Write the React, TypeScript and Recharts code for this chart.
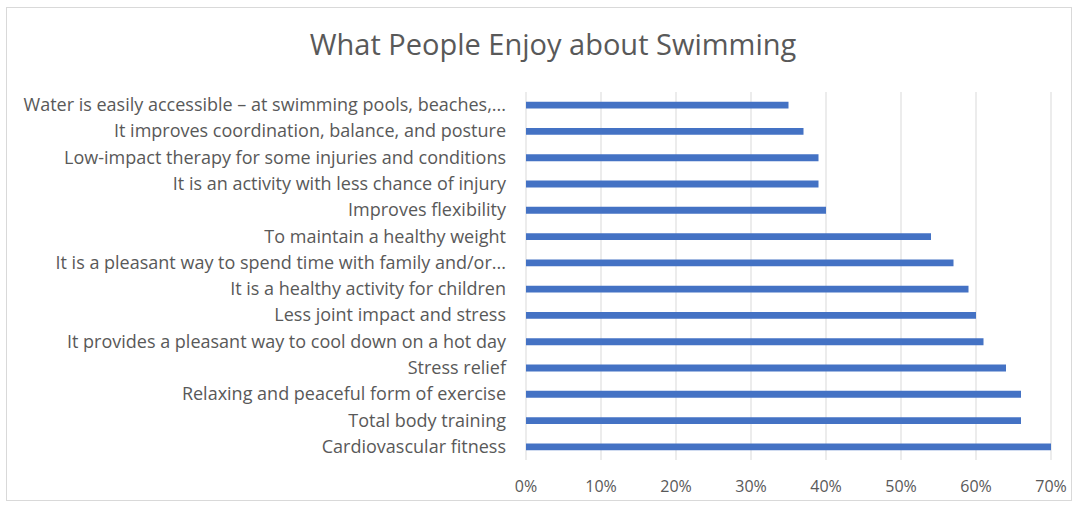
import React from 'react';
import { BarChart, Bar, XAxis, YAxis, CartesianGrid } from 'recharts';

const categories = [
  'Water is easily accessible – at swimming pools, beaches,...',
  'It improves coordination, balance, and posture',
  'Low-impact therapy for some injuries and conditions',
  'It is an activity with less chance of injury',
  'Improves flexibility',
  'To maintain a healthy weight',
  'It is a pleasant way to spend time with family and/or...',
  'It is a healthy activity for children',
  'Less joint impact and stress',
  'It provides a pleasant way to cool down on a hot day',
  'Stress relief',
  'Relaxing and peaceful form of exercise',
  'Total body training',
  'Cardiovascular fitness',
];
const values = [35, 37, 39, 39, 40, 54, 57, 59, 60, 61, 64, 66, 66, 70];
const xTicks = [0, 10, 20, 30, 40, 50, 60, 70];
const title = 'What People Enjoy about Swimming';

const data = categories.map((c, i) => ({ name: c, value: values[i] }));

const FONT = '"Open Sans", "Liberation Sans", sans-serif';
const TEXT = '#595959';

const YTick = (props: any) => {
  const { x, y, payload } = props;
  return (
    <text x={x - 12} y={y} dy={6} textAnchor="end" fill={TEXT} fontSize={18} fontFamily={FONT}>
      {payload.value}
    </text>
  );
};

const XTick = (props: any) => {
  const { x, y, payload } = props;
  return (
    <text x={x} y={y + 24} textAnchor="middle" fill={TEXT} fontSize={16} fontFamily={FONT}>
      {`${payload.value}%`}
    </text>
  );
};

export default function App() {
  return (
    <div style={{ position: 'absolute', left: 0, top: 0, width: 1078, height: 510, background: '#fff' }}>
      <div
        style={{
          position: 'absolute',
          left: 6,
          top: 7,
          width: 1066,
          height: 494,
          border: '1px solid #d9d9d9',
          boxSizing: 'border-box',
        }}
      />
      <div
        style={{
          position: 'absolute',
          left: 0,
          top: 24,
          width: 1106,
          textAlign: 'center',
          fontFamily: FONT,
          fontSize: 29,
          color: TEXT,
        }}
      >
        {title}
      </div>
      <BarChart
        layout="vertical"
        width={1078}
        height={510}
        data={data}
        margin={{ top: 92, right: 27, bottom: 20, left: 0 }}
        barCategoryGap="63%"
      >
        <CartesianGrid horizontal={false} stroke="#d9d9d9" />
        <XAxis
          type="number"
          domain={[0, 70]}
          ticks={xTicks}
          axisLine={false}
          tickLine={false}
          tick={<XTick />}
          interval={0}
          height={30}
        />
        <YAxis
          type="category"
          dataKey="name"
          width={526}
          axisLine={false}
          tickLine={false}
          tick={<YTick />}
          interval={0}
        />
        <Bar dataKey="value" fill="#4472C4" isAnimationActive={false} />
      </BarChart>
    </div>
  );
}
